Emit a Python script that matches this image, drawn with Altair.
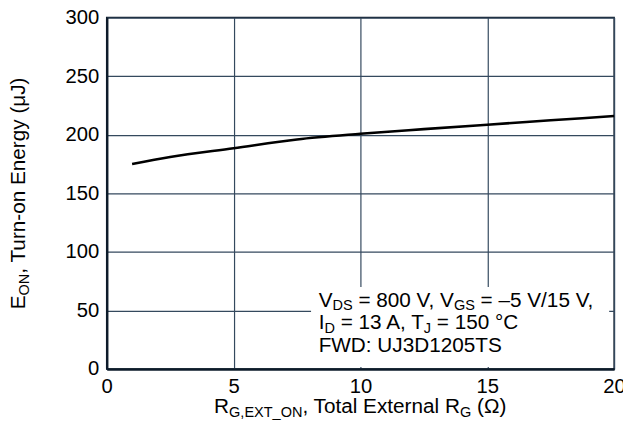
import altair as alt
import pandas as pd

# ---- data ----
rg_ohm = [1, 2.5, 5, 7.5, 10, 12.5, 15, 17.5, 20]
eon_uj = [175, 181, 188.5, 196, 200.8, 204.8, 208.6, 212.3, 216]
x_ticks = [0, 5, 10, 15, 20]
y_ticks = [0, 50, 100, 150, 200, 250, 300]

# rich-text pieces: (text, is_subscript)
x_title = [("R", 0), ("G,EXT_ON", 1), (", Total External R", 0), ("G", 1), (" (Ω)", 0)]
y_title = [("E", 0), ("ON", 1), (", Turn-on Energy (μJ)", 0)]
note_lines = [
    [("V", 0), ("DS", 1), (" = 800 V, V", 0), ("GS", 1), (" = –5 V/15 V,", 0)],
    [("I", 0), ("D", 1), (" = 13 A, T", 0), ("J", 1), (" = 150 °C", 0)],
    [("FWD: UJ3D1205TS", 0)],
]

# ---- style / layout ----
W, H = 514, 356
FONT = "Liberation Sans"
FS = 21
SUB = 14.7
DROP = 4
AXC = "#0d1b2a"
GRIDC = "#34495e"

# Arial / Liberation Sans advance widths (1/1000 em)
AW = {' ': 278, ',': 278, '.': 278, ':': 278, '=': 584, '–': 556, '−': 584,
      '/': 278, '°': 400, '(': 333, ')': 333, 'Ω': 768, '_': 556, '-': 333, 'μ': 576}
for d in "0123456789":
    AW[d] = 556
AW.update(dict(zip("ABCDEFGHIJKLMNOPQRSTUVWXYZ",
                   [667, 667, 722, 722, 667, 611, 778, 722, 278, 500, 667, 556, 833,
                    722, 778, 667, 778, 722, 667, 611, 722, 667, 944, 667, 667, 611])))
AW.update(dict(zip("abcdefghijklmnopqrstuvwxyz",
                   [556, 556, 500, 556, 556, 278, 556, 556, 222, 222, 500, 222, 833,
                    556, 556, 556, 556, 333, 500, 278, 556, 500, 722, 500, 500, 500])))
KERN = {"To": -111, " T": -18, "T ": -18, "V,": -92, " A": -55, "A ": -55, "Tu": -37,
        "11": -74, "T,": -111}


def tw(s, size):
    units = sum(AW.get(c, 556) for c in s)
    units += sum(KERN.get(s[i:i + 2], 0) for i in range(len(s) - 1))
    return units * size / 1000.0


def total_width(segs):
    return sum(tw(t, SUB if sub else FS) for t, sub in segs)


def rich(segs, x0, y0, angle=0):
    layers = []
    cum = 0.0
    for t, sub in segs:
        size = SUB if sub else FS
        stripped = t.lstrip(" ")
        lead = tw(t[: len(t) - len(stripped)], size)
        off = cum + lead
        if angle == 0:
            px, py = x0 + off, y0 + (DROP if sub else 0)
        else:
            px, py = x0 + (DROP if sub else 0), y0 - off
        mk = dict(text=stripped.rstrip(" "), font=FONT, fontSize=size, color="black",
                  align="left", baseline="alphabetic")
        if angle:
            mk["angle"] = angle
        layers.append(
            alt.Chart(alt.Data(values=[{}])).mark_text(**mk).encode(
                x=alt.value(px), y=alt.value(py))
        )
        cum += tw(t, size)
    return layers


df = pd.DataFrame({"rg": rg_ohm, "eon": eon_uj})

axis_common = dict(title=None, grid=True, labelFontSize=20.5, labelFont=FONT,
                   labelColor="black", tickSize=0, labelPadding=8, domainColor=AXC,
                   domainWidth=2.5, gridColor=GRIDC, gridWidth=1.2, labelFlush=False)

line = alt.Chart(df).mark_line(color="black", strokeWidth=2.6, interpolate="monotone").encode(
    x=alt.X("rg:Q", scale=alt.Scale(domain=[0, 20], nice=False),
            axis=alt.Axis(values=x_ticks, **axis_common)),
    y=alt.Y("eon:Q", scale=alt.Scale(domain=[0, 300], nice=False),
            axis=alt.Axis(values=y_ticks, **axis_common)),
)

box = alt.Chart(alt.Data(values=[{}])).mark_rect(color="white").encode(
    x=alt.value(207), x2=alt.value(509), y=alt.value(273), y2=alt.value(354)
)

layers = [line, box]
note_x = 214.7
note_y = [292.7, 315.7, 338.3]
for segs, yy in zip(note_lines, note_y):
    layers += rich(segs, note_x, yy)

layers += rich(x_title, W / 2 - total_width(x_title) / 2, 401)
layers += rich(y_title, -83, H / 2 + total_width(y_title) / 2, angle=270)

chart = alt.layer(*layers).properties(
    width=W, height=H,
    autosize=alt.AutoSizeParams(type="none"),
    padding={"left": 100, "top": 7, "right": 9, "bottom": 57},
).configure_view(stroke=AXC, strokeWidth=1.5)

chart.save("out.html", embed_options={"renderer": "svg", "actions": False})
